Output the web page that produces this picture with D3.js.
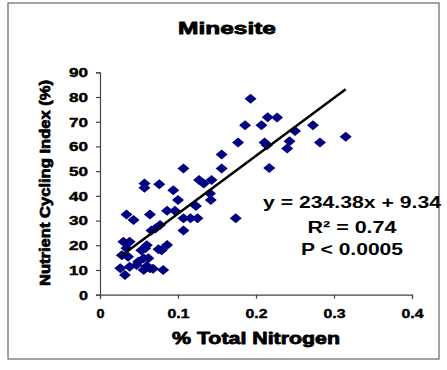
<!DOCTYPE html>
<html><head><meta charset="utf-8">
<script src="https://cdn.jsdelivr.net/npm/d3@7"></script>
<style>body{margin:0;background:#fff}svg{display:block}text{font-family:"Liberation Sans",Arial,sans-serif;font-weight:bold;fill:#000}</style>
</head><body>
<script>
const title = "Minesite";
const xLabel = "% Total Nitrogen";
const yLabel = "Nutrient Cycling Index (%)";
const xTicks = [0, 0.1, 0.2, 0.3, 0.4];
const yTicks = [0, 10, 20, 30, 40, 50, 60, 70, 80, 90];
const nitrogen = [0.193,0.215,0.227,0.186,0.207,0.273,0.250,0.315,0.177,0.211,0.214,0.243,0.240,0.282,0.217,0.156,0.156,0.107,0.174,
  0.127,0.133,0.143,0.141,0.142,0.123,0.094,0.100,0.086,0.096,0.107,0.116,0.125,0.107,0.057,0.057,0.076,0.064,0.034,0.043,0.066,0.071,0.077,
  0.030,0.038,0.034,0.028,0.036,0.058,0.053,0.079,0.086,0.075,0.081,0.026,0.032,0.038,0.049,0.056,0.062,0.064,0.056,0.047,0.060,0.068,0.060];
const nci = [79.3,71.8,71.7,68.6,68.6,68.6,66.2,63.9,61.6,61.6,60.5,62.1,59.2,61.6,51.3,56.7,51.1,51.1,30.9,
  46.4,45.0,46.4,41.0,38.3,35.9,42.3,38.3,34.0,34.0,30.9,30.9,30.9,26.0,45.0,43.3,44.7,32.5,32.5,30.2,26.0,26.8,28.2,
  21.4,21.4,18.8,16.0,15.4,18.8,18.0,18.0,20.1,18.4,10.0,10.7,8.0,11.3,13.3,10.0,14.7,10.7,14.7,12.0,11.5,10.5,20.0];
const slope = 234.38, intercept = 9.34;
const eqLines = ["y = 234.38x + 9.34", "R\u00B2 = 0.74", "P < 0.0005"];

const W = 447, H = 370;
const svg = d3.select("body").append("svg").attr("width", W).attr("height", H);
svg.append("rect").attr("x", 8).attr("y", 3).attr("width", 431).attr("height", 356)
  .attr("fill", "none").attr("stroke", "#666").attr("stroke-width", 1.2);

const x = d3.scaleLinear().domain([0, 0.4]).range([100, 412]);
const y = d3.scaleLinear().domain([0, 90]).range([294.7, 72.3]);

// axes
const gx = svg.append("g").attr("transform", `translate(0,${y(0)})`)
  .call(d3.axisBottom(x).tickValues(xTicks).tickSize(4).tickFormat(d => d === 0 ? "0" : d3.format(".1f")(d)));
const gy = svg.append("g").attr("transform", `translate(${x(0)},0)`)
  .call(d3.axisLeft(y).tickValues(yTicks).tickSize(4).tickFormat(d3.format("d")));
[gx, gy].forEach(g => {
  g.select(".domain").attr("stroke", "#444").attr("stroke-width", 1.2);
  g.selectAll(".tick line").attr("stroke", "#444").attr("stroke-width", 1.2);
  g.selectAll("text").attr("font-size", 12).attr("font-family", "Liberation Sans, Arial, sans-serif").attr("font-weight", "bold")
    .attr("fill", "#000").attr("stroke", "#000").attr("stroke-width", 0.4);
});
gx.selectAll(".tick text").attr("dy", null).attr("y", 23)
  .attr("textLength", d => d === 0 ? 8 : 22).attr("lengthAdjust", "spacingAndGlyphs");
gy.selectAll(".tick text").attr("x", -12).attr("dy", "0.36em")
  .attr("textLength", d => d === 0 ? 9 : 19).attr("lengthAdjust", "spacingAndGlyphs");

// points
const pts = nitrogen.map((v, i) => ({ n: v, c: nci[i] }));
svg.append("g").selectAll("path").data(pts).join("path")
  .attr("d", d => { const cx = x(d.n), cy = y(d.c); return `M${cx-6},${cy}L${cx},${cy-5}L${cx+6},${cy}L${cx},${cy+5}Z`; })
  .attr("fill", "#000080");

// trend line
const xmin = d3.min(nitrogen), xmax = d3.max(nitrogen);
svg.append("line")
  .attr("x1", x(xmin)).attr("y1", y(slope * xmin + intercept))
  .attr("x2", x(xmax)).attr("y2", y(slope * xmax + intercept))
  .attr("stroke", "#000").attr("stroke-width", 2.5);

// title and labels
const heavy = sel => sel.attr("stroke", "#000").attr("stroke-width", 0.8).attr("stroke-linejoin", "round");
heavy(svg.append("text").attr("x", 227).attr("y", 34).attr("text-anchor", "middle").attr("font-size", 17)
  .attr("textLength", 98).attr("lengthAdjust", "spacingAndGlyphs").text(title));
heavy(svg.append("text").attr("x", 256).attr("y", 344).attr("text-anchor", "middle").attr("font-size", 16)
  .attr("textLength", 168).attr("lengthAdjust", "spacingAndGlyphs").text(xLabel));
heavy(svg.append("text").attr("transform", "translate(50,183) rotate(-90)").attr("text-anchor", "middle").attr("font-size", 15)
  .attr("textLength", 206).attr("lengthAdjust", "spacingAndGlyphs").text(yLabel));

// equation
const eqY = [208, 233, 255], eqW = [178, 89, 102];
eqLines.forEach((t, i) => {
  svg.append("text").attr("x", 352).attr("y", eqY[i]).attr("text-anchor", "middle").attr("font-size", 16)
    .attr("textLength", eqW[i]).attr("lengthAdjust", "spacingAndGlyphs").text(t);
});
</script>
</body></html>
